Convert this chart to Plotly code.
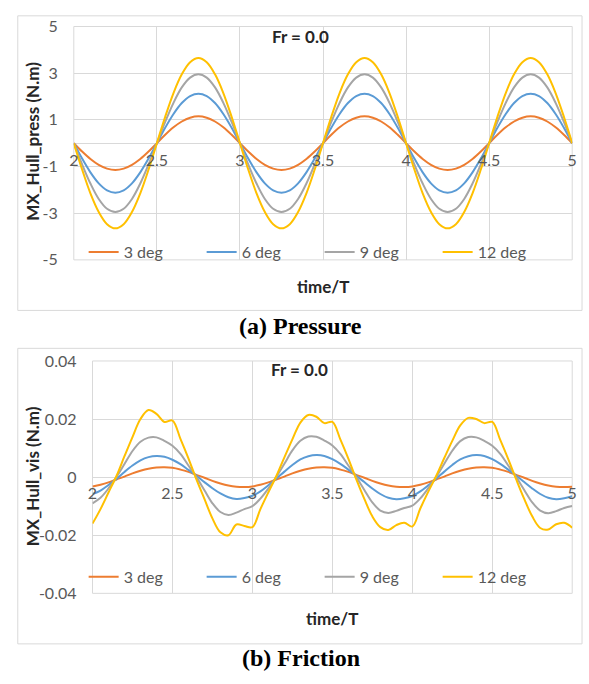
import plotly.graph_objects as go

# ---------------------------------------------------------------- data
time = [2.00, 2.05, 2.10, 2.15, 2.20, 2.25, 2.30, 2.35, 2.40, 2.45,
        2.50, 2.55, 2.60, 2.65, 2.70, 2.75, 2.80, 2.85, 2.90, 2.95,
        3.00, 3.05, 3.10, 3.15, 3.20, 3.25, 3.30, 3.35, 3.40, 3.45,
        3.50, 3.55, 3.60, 3.65, 3.70, 3.75, 3.80, 3.85, 3.90, 3.95,
        4.00, 4.05, 4.10, 4.15, 4.20, 4.25, 4.30, 4.35, 4.40, 4.45,
        4.50, 4.55, 4.60, 4.65, 4.70, 4.75, 4.80, 4.85, 4.90, 4.95,
        5.00]

series_names = ["3 deg", "6 deg", "9 deg", "12 deg"]
series_colors = ["#ED7D31", "#5B9BD5", "#A5A5A5", "#FFC000"]

# (a) pressure moment MX_Hull_press (N.m)
press_3 = [0.00, -0.36, -0.68, -0.93, -1.09, -1.15, -1.09, -0.93, -0.68, -0.36,
           0.00, 0.36, 0.68, 0.93, 1.09, 1.15, 1.09, 0.93, 0.68, 0.36,
           0.00, -0.36, -0.68, -0.93, -1.09, -1.15, -1.09, -0.93, -0.68, -0.36,
           0.00, 0.36, 0.68, 0.93, 1.09, 1.15, 1.09, 0.93, 0.68, 0.36,
           0.00, -0.36, -0.68, -0.93, -1.09, -1.15, -1.09, -0.93, -0.68, -0.36,
           0.00, 0.36, 0.68, 0.93, 1.09, 1.15, 1.09, 0.93, 0.68, 0.36,
           0.00]
press_6 = [0.00, -0.66, -1.25, -1.72, -2.02, -2.12, -2.02, -1.72, -1.25, -0.66,
           0.00, 0.66, 1.25, 1.72, 2.02, 2.12, 2.02, 1.72, 1.25, 0.66,
           0.00, -0.66, -1.25, -1.72, -2.02, -2.12, -2.02, -1.72, -1.25, -0.66,
           0.00, 0.66, 1.25, 1.72, 2.02, 2.12, 2.02, 1.72, 1.25, 0.66,
           0.00, -0.66, -1.25, -1.72, -2.02, -2.12, -2.02, -1.72, -1.25, -0.66,
           0.00, 0.66, 1.25, 1.72, 2.02, 2.12, 2.02, 1.72, 1.25, 0.66,
           0.00]
press_9 = [0.00, -0.91, -1.73, -2.39, -2.81, -2.95, -2.81, -2.39, -1.73, -0.91,
           0.00, 0.91, 1.73, 2.39, 2.81, 2.95, 2.81, 2.39, 1.73, 0.91,
           0.00, -0.91, -1.73, -2.39, -2.81, -2.95, -2.81, -2.39, -1.73, -0.91,
           0.00, 0.91, 1.73, 2.39, 2.81, 2.95, 2.81, 2.39, 1.73, 0.91,
           0.00, -0.91, -1.73, -2.39, -2.81, -2.95, -2.81, -2.39, -1.73, -0.91,
           0.00, 0.91, 1.73, 2.39, 2.81, 2.95, 2.81, 2.39, 1.73, 0.91,
           0.00]
press_12 = [0.00, -1.13, -2.15, -2.95, -3.47, -3.65, -3.47, -2.95, -2.15, -1.13,
            0.00, 1.13, 2.15, 2.95, 3.47, 3.65, 3.47, 2.95, 2.15, 1.13,
            0.00, -1.13, -2.15, -2.95, -3.47, -3.65, -3.47, -2.95, -2.15, -1.13,
            0.00, 1.13, 2.15, 2.95, 3.47, 3.65, 3.47, 2.95, 2.15, 1.13,
            0.00, -1.13, -2.15, -2.95, -3.47, -3.65, -3.47, -2.95, -2.15, -1.13,
            0.00, 1.13, 2.15, 2.95, 3.47, 3.65, 3.47, 2.95, 2.15, 1.13,
            0.00]

# (b) friction moment MX_Hull_vis (N.m)
fric_3 = [-0.0032, -0.0026, -0.0018, -0.0008, 0.0002, 0.0013, 0.0022, 0.0029, 0.0033, 0.0034,
          0.0032, 0.0026, 0.0018, 0.0008, -0.0002, -0.0013, -0.0022, -0.0029, -0.0033, -0.0034,
          -0.0032, -0.0026, -0.0018, -0.0008, 0.0002, 0.0013, 0.0022, 0.0029, 0.0033, 0.0034,
          0.0032, 0.0026, 0.0018, 0.0008, -0.0002, -0.0013, -0.0022, -0.0029, -0.0033, -0.0034,
          -0.0032, -0.0026, -0.0018, -0.0008, 0.0002, 0.0013, 0.0022, 0.0029, 0.0033, 0.0034,
          0.0032, 0.0026, 0.0018, 0.0008, -0.0002, -0.0013, -0.0022, -0.0029, -0.0033, -0.0034,
          -0.0033]
fric_6 = [-0.0058, -0.0046, -0.0027, -0.0006, 0.0018, 0.0040, 0.0058, 0.0069, 0.0073, 0.0070,
          0.0060, 0.0045, 0.0025, 0.0005, -0.0017, -0.0038, -0.0056, -0.0069, -0.0075, -0.0072,
          -0.0064, -0.0049, -0.0028, -0.0005, 0.0019, 0.0042, 0.0061, 0.0072, 0.0076, 0.0073,
          0.0062, 0.0046, 0.0026, 0.0005, -0.0017, -0.0039, -0.0058, -0.0071, -0.0076, -0.0073,
          -0.0065, -0.0049, -0.0028, -0.0005, 0.0019, 0.0042, 0.0061, 0.0072, 0.0076, 0.0073,
          0.0062, 0.0046, 0.0026, 0.0005, -0.0017, -0.0039, -0.0058, -0.0071, -0.0076, -0.0073,
          -0.0066]
fric_9 = [-0.0090, -0.0071, -0.0039, 0.0000, 0.0045, 0.0090, 0.0122, 0.0136, 0.0137, 0.0125,
          0.0108, 0.0080, 0.0040, 0.0000, -0.0045, -0.0090, -0.0120, -0.0130, -0.0122, -0.0110,
          -0.0100, -0.0074, -0.0039, 0.0001, 0.0046, 0.0092, 0.0125, 0.0140, 0.0139, 0.0126,
          0.0109, 0.0080, 0.0040, 0.0000, -0.0044, -0.0087, -0.0115, -0.0123, -0.0116, -0.0106,
          -0.0098, -0.0073, -0.0038, 0.0001, 0.0046, 0.0091, 0.0124, 0.0138, 0.0137, 0.0125,
          0.0108, 0.0080, 0.0040, 0.0000, -0.0044, -0.0087, -0.0115, -0.0124, -0.0117, -0.0106,
          -0.0099]
fric_12 = [-0.0160, -0.0110, -0.0053, 0.0004, 0.0072, 0.0138, 0.0200, 0.0231, 0.0218, 0.0190,
           0.0195, 0.0132, 0.0065, -0.0008, -0.0075, -0.0142, -0.0190, -0.0200, -0.0163, -0.0168,
           -0.0172, -0.0110, -0.0052, 0.0004, 0.0068, 0.0130, 0.0188, 0.0214, 0.0208, 0.0186,
           0.0190, 0.0130, 0.0064, -0.0008, -0.0075, -0.0135, -0.0172, -0.0182, -0.0165, -0.0157,
           -0.0170, -0.0108, -0.0050, 0.0005, 0.0066, 0.0125, 0.0178, 0.0204, 0.0200, 0.0186,
           0.0190, 0.0128, 0.0062, -0.0008, -0.0075, -0.0135, -0.0175, -0.0180, -0.0162, -0.0157,
           -0.0174]

x_ticks = [2, 2.5, 3, 3.5, 4, 4.5, 5]
x_ticktext = ["2", "2.5", "3", "3.5", "4", "4.5", "5"]
press_ticks = [-5, -3, -1, 1, 3, 5]
press_ticktext = ["-5", "-3", "-1", "1", "3", "5"]
fric_ticks = [-0.04, -0.02, 0, 0.02, 0.04]
fric_ticktext = ["-0.04", "-0.02", "0", "0.02", "0.04"]

# ---------------------------------------------------------------- layout helpers
W, H = 589, 684


def px(x):
    return x / W


def py(y):
    return 1 - y / H


SANS = "Lato"
SERIF = "Liberation Serif"
GRID = "#d9d9d9"
TICK = "#595959"
DARK = "#262626"

fig = go.Figure()

for vals, name, color in zip([press_3, press_6, press_9, press_12], series_names, series_colors):
    fig.add_trace(go.Scatter(x=time, y=vals, name=name, mode="lines",
                             line=dict(color=color, width=2, shape="spline"),
                             xaxis="x", yaxis="y", legend="legend"))

for vals, name, color in zip([fric_3, fric_6, fric_9, fric_12], series_names, series_colors):
    fig.add_trace(go.Scatter(x=time, y=vals, name=name, mode="lines",
                             line=dict(color=color, width=2, shape="spline"),
                             xaxis="x2", yaxis="y2", legend="legend2"))

tickfont = dict(family=SANS, size=16, color=TICK)

xcommon = dict(range=[2, 5], tickvals=x_ticks, ticktext=x_ticktext, showgrid=True,
               gridcolor=GRID, gridwidth=1, zeroline=False, showline=False, ticks="",
               tickfont=tickfont, anchor="free", ticklabelstandoff=6, fixedrange=True)
ycommon = dict(showgrid=True, gridcolor=GRID, gridwidth=1, zeroline=True,
               zerolinecolor=GRID, zerolinewidth=1, showline=False, ticks="",
               tickfont=tickfont, ticklabelstandoff=15, fixedrange=True)

legend_common = dict(orientation="h", x=px(80), xanchor="left", yanchor="middle",
                     entrywidth=73, entrywidthmode="pixels", itemwidth=30,
                     font=dict(family=SANS, size=16, color=TICK), bgcolor="rgba(0,0,0,0)")

fig.update_layout(
    width=W, height=H,
    margin=dict(l=0, r=0, t=0, b=0),
    paper_bgcolor="white", plot_bgcolor="white",
    xaxis=dict(domain=[px(70), px(577)], position=py(137), **xcommon),
    yaxis=dict(domain=[py(257), py(17)], range=[-5, 5], tickvals=press_ticks,
               ticktext=press_ticktext, anchor="x", **ycommon),
    xaxis2=dict(domain=[px(89), px(577)], position=py(479), **xcommon),
    yaxis2=dict(domain=[py(600), py(361)], range=[-0.04, 0.04], tickvals=fric_ticks,
                ticktext=fric_ticktext, anchor="x2", **ycommon),
    legend=dict(y=py(249), **legend_common),
    legend2=dict(y=py(583), **legend_common),
    showlegend=True,
)

# outer chart frames and plot-area borders
for y0, y1 in [(6, 309), (348, 652)]:
    fig.add_shape(type="rect", xref="paper", yref="paper", x0=px(13), x1=px(587),
                  y0=py(y1), y1=py(y0), line=dict(color=GRID, width=1), layer="below")
for xa, ya in [("x", "y"), ("x2", "y2")]:
    fig.add_shape(type="rect", xref=f"{xa} domain", yref=f"{ya} domain", x0=0, x1=1, y0=0, y1=1,
                  line=dict(color=GRID, width=1), layer="below")

bold = dict(family=SANS, size=17, color=DARK, weight="bold")
caption = dict(family=SERIF, size=24, color="black", weight="bold")
texts = [
    ("Fr = 0.0", 301, 27, 0, bold),
    ("Fr = 0.0", 300, 370, 0, bold),
    ("time/T", 323.5, 284, 0, bold),
    ("time/T", 333, 626, 0, bold),
    ("MX_Hull_press (N.m)", 28, 135, -90, bold),
    ("MX_Hull_vis (N.m)", 28, 480, -90, bold),
    ("(a) Pressure", 301, 325, 0, caption),
    ("(b) Friction", 301, 667, 0, caption),
]
for text, x, y, ang, font in texts:
    fig.add_annotation(text=text, x=px(x), y=py(y), xref="paper", yref="paper",
                       showarrow=False, textangle=ang, font=font,
                       xanchor="center", yanchor="middle")

fig.write_html("out.html")
